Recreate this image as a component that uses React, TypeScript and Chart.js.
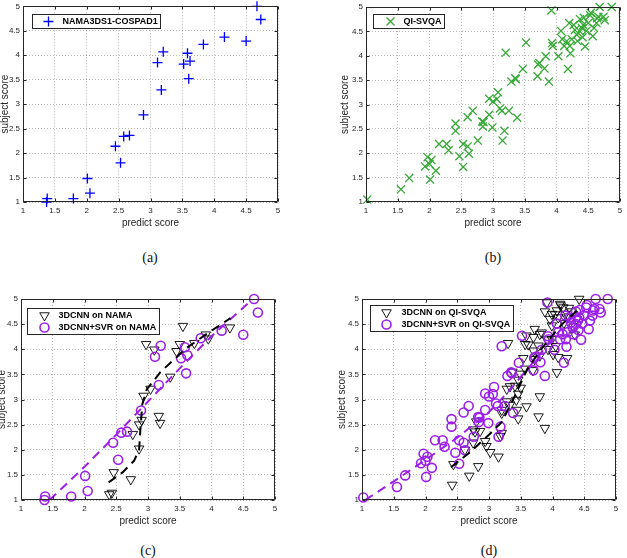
import React, { useEffect, useRef } from 'react';
import { Chart, registerables } from 'chart.js';

Chart.register(...registerables);

// ---------- data ----------
const AXIS_MIN = 1;
const AXIS_MAX = 5;
const AXIS_STEP = 0.5;
const X_TITLE = 'predict score';
const Y_TITLE = 'subject score';
const CAPTIONS = ['(a)', '(b)', '(c)', '(d)'];

const LABEL_NAMA_A = 'NAMA3DS1-COSPAD1';
const LABEL_QI_B = 'QI-SVQA';
const LABEL_NAMA_CNN = '3DCNN on NAMA';
const LABEL_NAMA_SVR = '3DCNN+SVR on NAMA';
const LABEL_QI_CNN = '3DCNN on QI-SVQA';
const LABEL_QI_SVR = '3DCNN+SVR on QI-SVQA';

// NAMA3DS1-COSPAD1, 3DCNN+SVR (panels a and c)
const namaSvrX = [1.37, 1.38, 1.79, 2.01, 2.05, 2.45, 2.53, 2.58, 2.67, 2.89, 3.11, 3.17, 3.2, 3.52, 3.58, 3.6, 3.62, 3.83, 4.16, 4.5, 4.67, 4.73];
const namaSvrY = [1.0, 1.07, 1.07, 1.48, 1.18, 2.14, 1.8, 2.34, 2.36, 2.78, 3.85, 3.29, 4.07, 3.82, 4.04, 3.52, 3.88, 4.22, 4.37, 4.29, 5.0, 4.73];

// NAMA3DS1-COSPAD1, 3DCNN (panel c)
const namaCnnX = [2.39, 2.43, 2.46, 2.73, 2.86, 2.76, 2.86, 2.9, 2.93, 3.04, 2.97, 3.1, 3.17, 3.19, 3.35, 3.45, 3.5, 3.55, 3.73, 3.91, 3.95, 4.29];
const namaCnnY = [1.11, 1.14, 1.55, 1.41, 2.02, 2.31, 2.5, 2.59, 3.07, 3.21, 4.1, 3.99, 2.67, 2.53, 3.45, 3.96, 4.1, 4.46, 4.12, 4.29, 4.21, 4.43];

// QI-SVQA, 3DCNN+SVR (panels b and d)
const qiSvrX = [1.02, 1.55, 1.68, 1.93, 1.97, 2.01, 2.03, 2.0, 2.1, 2.15, 2.27, 2.3, 2.41, 2.41, 2.47, 2.53, 2.53, 2.6, 2.6, 2.62, 2.68, 2.76, 2.83, 2.84, 2.85, 2.94, 2.94, 2.99, 3.0, 3.06, 3.08, 3.11, 3.14, 3.15, 3.18, 3.2, 3.25, 3.29, 3.35, 3.36, 3.38, 3.47, 3.52, 3.7, 3.71, 3.73, 3.81, 3.83, 3.88, 3.92, 3.93, 3.94, 4.03, 4.07, 4.09, 4.12, 4.16, 4.18, 4.2, 4.21, 4.22, 4.24, 4.27, 4.29, 4.32, 4.33, 4.37, 4.4, 4.42, 4.43, 4.45, 4.47, 4.5, 4.53, 4.54, 4.57, 4.59, 4.63, 4.64, 4.66, 4.68, 4.74, 4.76, 4.87, 4.37, 4.41];
const qiSvrY = [1.05, 1.26, 1.49, 1.73, 1.92, 1.46, 1.86, 1.78, 1.64, 2.19, 2.19, 2.06, 2.61, 2.46, 1.94, 2.19, 1.72, 2.74, 2.14, 1.99, 2.87, 2.26, 2.65, 2.55, 2.64, 3.12, 2.79, 2.53, 3.06, 3.11, 3.25, 2.92, 2.87, 2.26, 2.46, 4.06, 2.87, 3.47, 3.54, 3.52, 2.73, 3.73, 4.27, 3.58, 3.82, 3.85, 3.74, 3.99, 3.47, 4.93, 4.26, 4.2, 3.99, 4.51, 4.34, 4.2, 4.3, 3.73, 4.67, 4.2, 4.05, 4.34, 4.63, 4.53, 4.43, 4.3, 4.75, 4.57, 4.63, 4.78, 4.19, 4.51, 4.67, 4.83, 4.88, 4.4, 4.57, 4.67, 4.77, 4.8, 5.0, 4.8, 4.73, 5.0, 4.5, 4.38];

// QI-SVQA, 3DCNN (panel d)
const qiCnnX = [2.42, 2.44, 2.69, 2.83, 3.15, 2.62, 2.75, 2.78, 2.86, 2.96, 3.02, 2.94, 3.2, 2.75, 2.8, 3.2, 3.28, 3.33, 3.3, 3.37, 3.43, 3.44, 3.46, 3.46, 3.5, 3.41, 3.46, 3.2, 3.33, 3.59, 3.78, 3.8, 3.88, 3.49, 3.54, 3.57, 3.72, 3.8, 3.7, 3.93, 4.01, 4.09, 4.07, 4.23, 3.57, 3.59, 3.7, 3.8, 3.72, 3.83, 3.99, 3.96, 4.09, 3.99, 4.07, 4.17, 4.12, 3.91, 4.42, 3.88, 4.04, 4.13, 4.18, 4.26, 4.33, 4.35, 3.99, 3.91, 3.62, 3.69, 3.78, 4.05, 4.25, 4.3, 4.38, 4.2, 3.28, 3.18];
const qiCnnY = [1.3, 1.71, 1.48, 1.67, 1.86, 2.0, 2.14, 2.36, 2.37, 2.07, 1.95, 2.17, 2.33, 2.4, 2.56, 2.79, 2.96, 3.26, 4.12, 3.55, 2.99, 2.79, 2.62, 3.39, 3.23, 3.27, 3.11, 2.73, 2.89, 2.86, 2.66, 3.06, 2.43, 3.51, 3.82, 3.61, 3.8, 3.87, 3.97, 4.0, 3.9, 3.84, 3.54, 3.82, 4.1, 4.27, 4.24, 4.3, 4.4, 4.33, 4.47, 4.6, 4.63, 4.7, 4.77, 4.83, 4.9, 4.93, 5.0, 4.75, 4.69, 4.87, 4.52, 4.82, 4.45, 4.29, 4.2, 4.19, 4.09, 3.58, 4.07, 4.06, 4.65, 4.75, 4.6, 4.7, 3.21, 2.27];

// fitted curves
const namaSvrFitX = [1.45, 2.0, 2.5, 3.0, 3.5, 4.0, 4.65];
const namaSvrFitY = [1.0, 1.66, 2.3, 2.96, 3.62, 4.26, 5.0];
const namaCnnFitX = [2.38, 2.6, 2.78, 2.86, 2.88, 2.91, 2.98, 3.2, 3.6, 4.0, 4.3];
const namaCnnFitY = [1.35, 1.55, 1.78, 2.0, 2.4, 2.9, 3.2, 3.55, 4.02, 4.37, 4.62];
const qiSvrFitX = [1.05, 1.5, 2.0, 2.5, 3.0, 3.3, 3.6, 3.9, 4.15, 4.4];
const qiSvrFitY = [1.0, 1.37, 1.8, 2.24, 2.75, 3.15, 3.6, 4.05, 4.42, 4.75];
const qiCnnFitX = [2.4, 2.7, 3.0, 3.2, 3.4, 3.6, 3.85, 4.15, 4.4];
const qiCnnFitY = [1.65, 1.95, 2.3, 2.55, 3.05, 3.6, 4.05, 4.5, 4.78];

// ---------- styles ----------
const BLUE = '#0000ff';
const GREEN = '#36a836';
const PURPLE = '#9b1fe9';
const BLACK = '#000000';
const TEXT = '#262626';
const FONT = '"Liberation Sans", Arial, Helvetica, sans-serif';

const pts = (xs: number[], ys: number[]) => xs.map((x, i) => ({ x, y: ys[i] }));

function drawMarker(ctx: CanvasRenderingContext2D, style: string, x: number, y: number, r: number, rot: number) {
  ctx.beginPath();
  if (style === 'cross') {
    ctx.moveTo(x - r, y); ctx.lineTo(x + r, y);
    ctx.moveTo(x, y - r); ctx.lineTo(x, y + r);
    ctx.stroke();
  } else if (style === 'crossRot') {
    const d = r * Math.SQRT1_2;
    ctx.moveTo(x - d, y - d); ctx.lineTo(x + d, y + d);
    ctx.moveTo(x - d, y + d); ctx.lineTo(x + d, y - d);
    ctx.stroke();
  } else if (style === 'triangle') {
    let rad = (rot * Math.PI) / 180;
    ctx.moveTo(x + Math.sin(rad) * r, y - Math.cos(rad) * r);
    rad += (2 * Math.PI) / 3;
    ctx.lineTo(x + Math.sin(rad) * r, y - Math.cos(rad) * r);
    rad += (2 * Math.PI) / 3;
    ctx.lineTo(x + Math.sin(rad) * r, y - Math.cos(rad) * r);
    ctx.closePath();
    ctx.stroke();
  } else {
    ctx.arc(x, y, r, 0, Math.PI * 2);
    ctx.stroke();
  }
}

const framePlugin = {
  id: 'frame',
  afterDatasetsDraw(chart: any) {
    const { ctx, chartArea: a, scales } = chart;
    ctx.save();
    ctx.strokeStyle = TEXT;
    ctx.lineWidth = 1;
    const L = Math.round(a.left) + 0.5;
    const R = Math.round(a.right) - 0.5;
    const T = Math.round(a.top) + 0.5;
    const B = Math.round(a.bottom) - 0.5;
    ctx.beginPath();
    ctx.rect(L, T, R - L, B - T);
    const tl = 3;
    for (const t of scales.x.ticks) {
      const px = Math.round(scales.x.getPixelForValue(t.value)) + 0.5;
      ctx.moveTo(px, B); ctx.lineTo(px, B - tl);
      ctx.moveTo(px, T); ctx.lineTo(px, T + tl);
    }
    for (const t of scales.y.ticks) {
      const py = Math.round(scales.y.getPixelForValue(t.value)) + 0.5;
      ctx.moveTo(L, py); ctx.lineTo(L + tl, py);
      ctx.moveTo(R, py); ctx.lineTo(R - tl, py);
    }
    ctx.stroke();
    ctx.restore();
  },
  afterDraw(chart: any, _args: any, opts: any) {
    const { ctx, chartArea: a } = chart;
    const items = chart.data.datasets.filter((d: any) => d.label);
    if (!items.length) return;
    ctx.save();
    ctx.font = `bold 9px ${FONT}`;
    const maxW = Math.max(...items.map((d: any) => ctx.measureText(d.label).width));
    const x0 = Math.round(a.left + opts.dx) + 0.5;
    const y0 = Math.round(a.top + opts.dy) + 0.5;
    const rowH = 12;
    const w = Math.round(opts.tx + maxW + 3);
    const h = items.length * rowH + 2;
    ctx.fillStyle = '#ffffff';
    ctx.fillRect(x0, y0, w, h);
    ctx.strokeStyle = TEXT;
    ctx.lineWidth = 1;
    ctx.strokeRect(x0, y0, w, h);
    items.forEach((d: any, i: number) => {
      const cy = y0 + 1 + rowH * (i + 0.5);
      ctx.strokeStyle = d.borderColor;
      ctx.lineWidth = d.borderWidth;
      drawMarker(ctx, d.pointStyle, x0 + opts.mx, cy, d.pointRadius, d.pointRotation || 0);
      ctx.fillStyle = '#000';
      ctx.textBaseline = 'middle';
      ctx.textAlign = 'left';
      ctx.fillText(d.label, x0 + opts.tx, cy + 0.5);
    });
    ctx.restore();
  },
};

function axisOpts(isX: boolean, size: number) {
  return {
    type: 'linear',
    position: isX ? 'bottom' : 'left',
    min: AXIS_MIN,
    max: AXIS_MAX,
    ticks: {
      stepSize: AXIS_STEP,
      color: TEXT,
      font: { family: FONT, size: 8 },
      padding: isX ? 4 : 3,
      maxRotation: 0,
      autoSkip: false,
      callback: (v: number | string) => String(Math.round(Number(v) * 10) / 10),
    },
    grid: { color: 'rgba(0,0,0,0.28)', drawTicks: false, lineWidth: 1 },
    border: { display: false, dash: [1, 2] },
    title: {
      display: true,
      text: isX ? X_TITLE : Y_TITLE,
      color: TEXT,
      font: { family: FONT, size: 10, lineHeight: 1 },
      padding: 0,
    },
    afterFit: (s: any) => {
      if (isX) s.height = size;
      else s.width = size;
      s.paddingLeft = 0;
      s.paddingRight = 0;
      s.paddingTop = 0;
      s.paddingBottom = 0;
    },
  };
}

const scatterDs = (label: string, xs: number[], ys: number[], color: string, style: string, r: number, bw: number, order: number, rot = 0) => ({
  label,
  data: pts(xs, ys),
  borderColor: color,
  backgroundColor: 'transparent',
  pointBackgroundColor: 'transparent',
  pointBorderColor: color,
  pointStyle: style,
  pointRadius: r,
  pointHoverRadius: r,
  pointRotation: rot,
  borderWidth: bw,
  pointBorderWidth: bw,
  clip: false,
  order,
});

const fitDs = (xs: number[], ys: number[], color: string, order: number) => ({
  data: pts(xs, ys),
  showLine: true,
  borderColor: color,
  borderWidth: 2,
  borderDash: [9, 6],
  pointRadius: 0,
  pointHoverRadius: 0,
  fill: false,
  order,
});

type Spec = {
  left: number; top: number; width: number; height: number;
  yW: number; xH: number; padTop: number; padRight: number;
  legend: { dx: number; dy: number; mx: number; tx: number };
  datasets: any[];
};

const SPECS: Spec[] = [
  {
    left: 0, top: 0, width: 300, height: 228, yW: 23, xH: 26, padTop: 2, padRight: 22,
    legend: { dx: 9, dy: 8, mx: 16, tx: 30 },
    datasets: [scatterDs(LABEL_NAMA_A, namaSvrX, namaSvrY, BLUE, 'cross', 5, 1.3, 1)],
  },
  {
    left: 340, top: 0, width: 287, height: 228, yW: 26, xH: 26, padTop: 2, padRight: 7,
    legend: { dx: 7, dy: 7, mx: 17, tx: 30 },
    datasets: [scatterDs(LABEL_QI_B, qiSvrX, qiSvrY, GREEN, 'crossRot', 5.7, 1.3, 1)],
  },
  {
    left: -3, top: 290, width: 300, height: 236, yW: 24, xH: 26, padTop: 9, padRight: 22,
    legend: { dx: 6, dy: 9, mx: 17, tx: 31 },
    datasets: [
      scatterDs(LABEL_NAMA_CNN, namaCnnX, namaCnnY, BLACK, 'triangle', 5.5, 0.9, 3, 180),
      scatterDs(LABEL_NAMA_SVR, namaSvrX, namaSvrY, PURPLE, 'circle', 4.5, 1.6, 2),
      fitDs(namaSvrFitX, namaSvrFitY, PURPLE, 1),
      fitDs(namaCnnFitX, namaCnnFitY, BLACK, 0),
    ],
  },
  {
    left: 337, top: 290, width: 290, height: 236, yW: 25, xH: 26, padTop: 9, padRight: 11,
    legend: { dx: 8, dy: 6, mx: 16, tx: 31 },
    datasets: [
      scatterDs(LABEL_QI_CNN, qiCnnX, qiCnnY, BLACK, 'triangle', 5.5, 0.9, 3, 180),
      scatterDs(LABEL_QI_SVR, qiSvrX, qiSvrY, PURPLE, 'circle', 4.5, 1.6, 2),
      fitDs(qiSvrFitX, qiSvrFitY, PURPLE, 1),
      fitDs(qiCnnFitX, qiCnnFitY, BLACK, 0),
    ],
  },
];

function Panel({ spec }: { spec: Spec }) {
  const ref = useRef<HTMLCanvasElement>(null);
  useEffect(() => {
    const chart = new Chart(ref.current as HTMLCanvasElement, {
      type: 'scatter',
      data: { datasets: spec.datasets },
      options: {
        animation: false,
        responsive: false,
        devicePixelRatio: 1,
        events: [],
        layout: { padding: { left: 0, top: spec.padTop, right: spec.padRight, bottom: 0 } },
        plugins: {
          legend: { display: false },
          tooltip: { enabled: false },
          frame: spec.legend,
        } as any,
        scales: {
          x: axisOpts(true, spec.xH) as any,
          y: axisOpts(false, spec.yW) as any,
        },
      },
      plugins: [framePlugin as any],
    });
    return () => chart.destroy();
  }, [spec]);
  return (
    <canvas
      ref={ref}
      width={spec.width}
      height={spec.height}
      style={{ position: 'absolute', left: spec.left, top: spec.top, width: spec.width, height: spec.height }}
    />
  );
}

const CAPTION_POS = [
  { x: 150, y: 258 },
  { x: 493, y: 258 },
  { x: 148, y: 551 },
  { x: 489, y: 551 },
];

export default function App() {
  return (
    <div style={{ position: 'fixed', left: 0, top: 0, width: 627, height: 558, background: '#fff', overflow: 'hidden' }}>
      {SPECS.map((s, i) => (
        <Panel key={i} spec={s} />
      ))}
      {CAPTIONS.map((c, i) => (
        <div
          key={c}
          style={{
            position: 'absolute',
            left: CAPTION_POS[i].x - 30,
            top: CAPTION_POS[i].y - 8,
            width: 60,
            textAlign: 'center',
            fontFamily: '"Liberation Serif", "DejaVu Serif", serif',
            fontSize: 14,
            lineHeight: '16px',
            color: '#111',
          }}
        >
          {c}
        </div>
      ))}
    </div>
  );
}
